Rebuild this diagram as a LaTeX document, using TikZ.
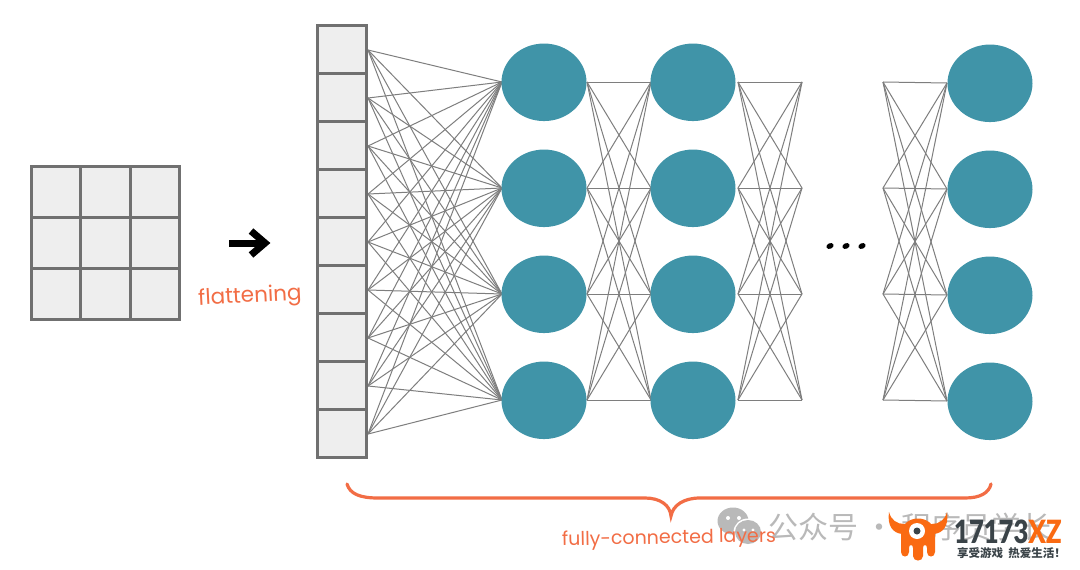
\documentclass[tikz,border=0pt]{standalone}
\usepackage{fontspec}
\setmainfont{Lato}
\newfontfamily\cjkf{Noto Sans CJK SC}
\newfontfamily\handf{Poppins}
\definecolor{teal1}{HTML}{4094A8}
\definecolor{cellfill}{HTML}{EEEEEE}
\definecolor{cellline}{HTML}{707070}
\definecolor{wire}{HTML}{7E7E7E}
\definecolor{brc}{HTML}{F26D45}
\definecolor{lgo}{HTML}{FA6A12}
\definecolor{lgd}{HTML}{3A4348}
\definecolor{wm}{HTML}{B9B9B9}
\tikzset{
 cellbox/.style={draw=cellline,fill=cellfill,line width=3pt,minimum width=49.5pt,minimum height=51pt,inner sep=0pt,outer sep=0pt},
 barcell/.style={draw=cellline,fill=cellfill,line width=3pt,minimum width=49pt,minimum height=48pt,inner sep=0pt,outer sep=0pt},
 neuron/.style={ellipse,fill=teal1,minimum width=85pt,minimum height=77.5pt,inner sep=0pt},
 wireline/.style={draw=wire,line width=1pt},
 hand/.style={text=brc,font=\handf\fontsize{21.5}{22}\selectfont,inner sep=0pt},
 dotmark/.style={ellipse,fill=black,minimum width=7.5pt,minimum height=5.5pt,inner sep=0pt,rotate=25}
}
\usetikzlibrary{shapes.geometric,arrows.meta}
\begin{document}
\begin{tikzpicture}[x=1pt,y=-1pt]
\useasboundingbox (0,0) rectangle (1080,570);
\fill[white] (0,0) rectangle (1080,570);
% input grid
\foreach \r in {0,1,2}{\foreach \c in {0,1,2}{
 \node[cellbox] (g\r\c) at ({56.2+49.5*\c},{191.5+51*\r}) {};}}
% wires: bar to layer 1
\foreach \i in {1,...,9}{\coordinate (bo\i) at (368,{2+48*\i});}
\foreach \j [evaluate=\j as \yy using {82+106*(\j-1)}] in {1,2,3,4}{
 \coordinate (ai\j) at (502,\yy);
 \coordinate (ao\j) at (587,\yy);
 \coordinate (bi\j) at (651,\yy);
 \coordinate (bo2\j) at (738,\yy);
 \coordinate (ci\j) at (802,\yy);
 \coordinate (co\j) at (883,\yy);
 \coordinate (di\j) at (947,{\yy+1});
}
\foreach \i in {1,...,9}{\foreach \j in {1,2,3,4}{\draw[wireline] (bo\i) -- (ai\j);}}
\foreach \a in {1,2,3,4}{\foreach \b in {1,2,3,4}{
 \draw[wireline] (ao\a) -- (bi\b);
 \draw[wireline] (bo2\a) -- (ci\b);
 \draw[wireline] (co\a) -- (di\b);
}}
% flat bar
\foreach \i in {1,...,9}{\node[barcell] (bar\i) at (342,{1.5+48*\i}) {};}
% neurons
\foreach \j [evaluate=\j as \yy using {82.3+106*(\j-1)}] in {1,2,3,4}{
 \node[neuron] (na\j) at (544,\yy) {};
 \node[neuron] (nb\j) at (693,\yy) {};
 \node[neuron] (nc\j) at (990,{\yy+1}) {};
}
% arrow
\draw[black,line width=7pt] (229,243) -- (263,243);
\draw[black,line width=7pt,line join=miter] (251,231) -- (265,243) -- (251,255);
% labels
\node[hand,rotate=3] (flat) at (250,297) {flattening};
\foreach \n/\x in {d1/830,d2/846,d3/862}{\node[dotmark] (\n) at (\x,246) {};}
% brace
\draw[brc,line width=3.2pt,line cap=round] (347,484) .. controls (350,494) and (360,498) .. (378,498)
 -- (645,498) .. controls (660,498) and (670,505) .. (671,516)
 .. controls (673,505) and (684,498) .. (700,498)
 -- (965,498) .. controls (980,498) and (989,493) .. (991,484);
% watermark
\fill[wm] (733,521) ellipse (15.5pt and 13.5pt);
\fill[white] (748,532) ellipse (14.5pt and 13.5pt);
\fill[wm] (748,532) ellipse (13pt and 12pt);
\fill[white] (728,518) circle (2pt) (739,518) circle (2pt) (744,530) circle (1.6pt) (753,530) circle (1.6pt);
\node[text=wm,font=\cjkf\fontsize{30}{30}\selectfont,inner sep=0pt,anchor=west] (wmt) at (768,527) {公众号 · 程序员学长};
\node[hand,rotate=1,font=\handf\fontsize{19}{20}\selectfont] (fc) at (669,539) {fully-connected layers};
% logo
\fill[lgo] (889,512) .. controls (887,526) and (893,533) .. (902,534)
 -- (934,534) .. controls (943,533) and (949,526) .. (947,512)
 .. controls (945,520) and (939,524) .. (932,524)
 -- (904,524) .. controls (897,524) and (891,520) .. (889,512) -- cycle;
\fill[lgo] (901,535) .. controls (901,513) and (935,513) .. (935,535) -- (935,552)
 .. controls (935,558) and (927,558) .. (927,552) -- (927,548)
 .. controls (927,544) and (923,544) .. (923,548) -- (923,556)
 .. controls (923,562) and (913,562) .. (913,556) -- (913,548)
 .. controls (913,544) and (909,544) .. (909,548) -- (909,552)
 .. controls (909,558) and (901,558) .. (901,552) -- cycle;
\fill[white] (917,531) circle (8pt);
\fill[lgd] (917,531) circle (3.5pt);
\node[font=\fontspec{Lato Black}\fontsize{32}{32}\selectfont,xscale=0.8,text=lgd,inner sep=0pt,anchor=west] (lg1) at (954,531.5) {17173\textcolor{lgo}{XZ}};
\node[font=\cjkf\fontsize{11.5}{12}\selectfont\bfseries,text=lgd,inner sep=0pt,anchor=west] (lg2) at (957,553) {享受游戏 \ 热爱生活！};
\end{tikzpicture}
\end{document}
